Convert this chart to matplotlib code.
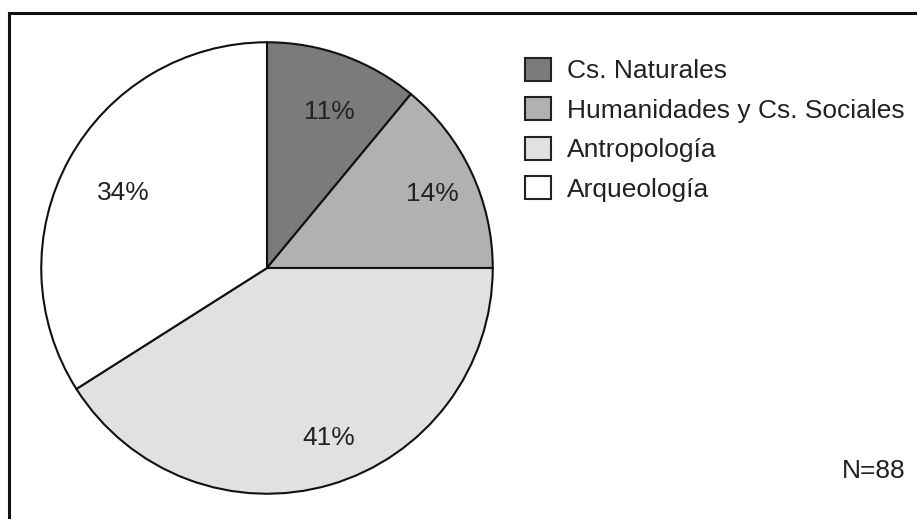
import matplotlib
matplotlib.use("Agg")
import matplotlib.pyplot as plt
from matplotlib.lines import Line2D

plt.rcParams['font.family'] = ['Liberation Sans', 'DejaVu Sans']

# data
categories = ["Cs. Naturales", "Humanidades y Cs. Sociales", "Antropología", "Arqueología"]
percentages = [11, 14, 41, 34]
colours = ["#7b7b7b", "#b1b1b1", "#e1e1e1", "#ffffff"]
n_total = 88

W, H = 917, 519
fig = plt.figure(figsize=(W / 100, H / 100), dpi=100)

# pie placed by pixel: centre (267, 268), radius 228
cx, cy, r = 267, 268, 228
ax = fig.add_axes([(cx - r) / W, (H - cy - r) / H, 2 * r / W, 2 * r / H])
wedges, texts, autotexts = ax.pie(
    percentages, colors=colours, startangle=90, counterclock=False,
    autopct=lambda p: f"{p:.0f}%", pctdistance=0.75,
    wedgeprops=dict(edgecolor="#111111", linewidth=1.5),
    textprops=dict(fontsize=19, color="#222222"))
ax.set_xlim(-1.01, 1.01)
ax.set_ylim(-1.01, 1.01)
ax.set_aspect("equal")
ax.axis("off")

# small nudges of the percentage labels (pixels: right, down)
nudges = [(5, 3), (12, -2), (15, 7), (5, 7)]
for t, (dx, dy) in zip(autotexts, nudges):
    x, y = t.get_position()
    t.set_position((x + dx / r, y - dy / r))

fig.legend(wedges, categories, loc="upper left",
           bbox_to_anchor=(525 / W, 1 - 58 / H), frameon=False,
           fontsize=19, handlelength=1.0, handleheight=0.95,
           handletextpad=0.6, labelspacing=0.53, borderpad=0,
           borderaxespad=0, labelcolor="#222222")
for h in fig.legends[0].legend_handles:
    h.set_edgecolor("#222222")
    h.set_linewidth(1.5)

fig.text(905 / W, 1 - 471 / H, f"N={n_total}", fontsize=19, color="#222222",
         ha="right", va="center")

# frame: top and left edges only
fig.add_artist(Line2D([9 / W, 1], [1 - 13 / H, 1 - 13 / H], color="#111111", linewidth=2.2))
fig.add_artist(Line2D([9 / W, 9 / W], [0, 1 - 13 / H], color="#111111", linewidth=2.2))

fig.savefig("out.png", dpi=100)
